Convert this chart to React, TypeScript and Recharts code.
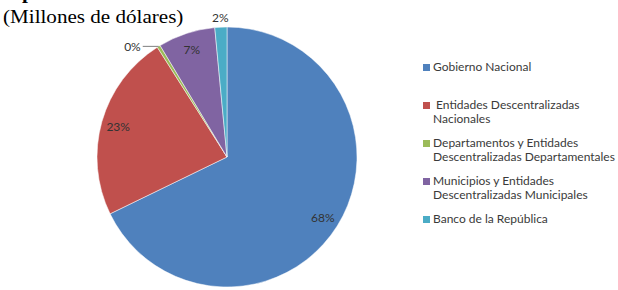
import React from "react";
import { PieChart, Pie, Cell, Legend } from "recharts";

const categories = [
  "Gobierno Nacional",
  " Entidades Descentralizadas\nNacionales",
  "Departamentos y Entidades\nDescentralizadas Departamentales",
  "Municipios y Entidades\nDescentralizadas Municipales",
  "Banco de la República",
];
const shares = [67.8, 23.2, 0.4, 7.1, 1.5];
const colors = ["#4F81BD", "#C0504D", "#9BBB59", "#8064A2", "#4BACC6"];
const titleLines = ["Septiembre de 2013", "(Millones de dólares)"];

const data = categories.map((name, i) => ({ name, value: shares[i] }));

const RAD = Math.PI / 180;
const FONT = "Lato, 'Open Sans', sans-serif";
const SERIF = "'Liberation Serif', 'Times New Roman', serif";

const renderLabel = (props: any) => {
  const { cx, cy, midAngle, outerRadius, percent, index } = props;
  const txt = `${Math.round(percent * 100)}%`;
  const cos = Math.cos(-midAngle * RAD);
  const sin = Math.sin(-midAngle * RAD);
  if (shares[index] < 1) {
    const ex = cx + outerRadius * cos;
    const ey = cy + outerRadius * sin;
    const lx = ex - 16;
    return (
      <g key={`l${index}`}>
        <path d={`M${ex},${ey} L${lx},${ey}`} stroke="#7f7f7f" strokeWidth={1} fill="none" />
        <text x={lx - 2} y={ey} textAnchor="end" dominantBaseline="central" fontSize={12} fontFamily={FONT} fill="#333333">
          {txt}
        </text>
      </g>
    );
  }
  const r = shares[index] < 3 ? outerRadius + 10 : outerRadius * 0.87;
  const x = cx + r * cos;
  const y = cy + r * sin;
  return (
    <text key={`l${index}`} x={x} y={y} textAnchor="middle" dominantBaseline="central" fontSize={12} fontFamily={FONT} fill="#333333">
      {txt}
    </text>
  );
};

const renderLegend = () => (
  <div style={{ fontFamily: FONT, fontSize: 12, color: "#3a3a3a" }}>
    {categories.map((c, i) => (
      <div key={i} style={{ height: 38, display: "flex", alignItems: "flex-start" }}>
        <div style={{ width: 7, height: 7, background: colors[i], marginTop: 4, marginRight: 3, flex: "none" }} />
        <div style={{ whiteSpace: "pre", lineHeight: "14px" }}>{c}</div>
      </div>
    ))}
  </div>
);

export default function App() {
  return (
    <div style={{ position: "absolute", left: 0, top: 0, width: 618, height: 290, background: "#fff", overflow: "hidden" }}>
      <div style={{ position: "absolute", left: 1, top: -19, fontFamily: SERIF, fontSize: 19, fontWeight: "bold", color: "#000", whiteSpace: "nowrap", lineHeight: "24px", transform: "scaleX(1.11)", transformOrigin: "0 0" }}>
        {titleLines[0]}
      </div>
      <div style={{ position: "absolute", left: 3, top: 5, fontFamily: SERIF, fontSize: 19, color: "#000", whiteSpace: "nowrap", lineHeight: "24px", transform: "scaleX(1.11)", transformOrigin: "0 0" }}>
        {titleLines[1]}
      </div>
      <PieChart width={618} height={290} margin={{ top: 0, right: 0, bottom: 0, left: 0 }}>
        <Pie
          data={data}
          dataKey="value"
          nameKey="name"
          cx={227}
          cy={157}
          outerRadius={130}
          startAngle={90}
          endAngle={-270}
          stroke="#ffffff"
          strokeWidth={0.5}
          label={renderLabel}
          labelLine={false}
          isAnimationActive={false}
        >
          {data.map((_, i) => (
            <Cell key={i} fill={colors[i]} />
          ))}
        </Pie>
        <Legend
          layout="vertical"
          content={renderLegend}
          wrapperStyle={{ position: "absolute", left: 423, top: 60, width: 195, bottom: "auto", right: "auto" }}
        />
      </PieChart>
    </div>
  );
}
